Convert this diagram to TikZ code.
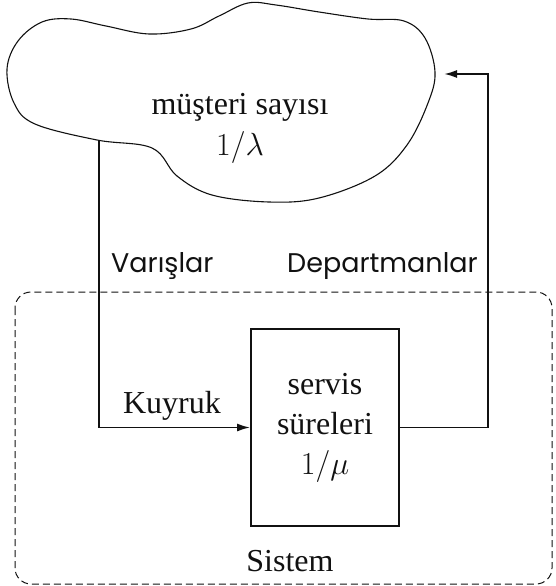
\RequirePackage{fix-cm}
\documentclass[tikz,border=0pt]{standalone}
\usepackage{fontspec}
\setmainfont{Liberation Serif}
\newfontfamily\handfont{Poppins}
\usepackage{xcolor}
\usetikzlibrary{arrows.meta}
\definecolor{ink}{HTML}{111111}
\tikzset{
  line/.style={draw=ink, line width=1.8pt},
  flow/.style={line, -{Latex[length=13pt,width=8pt]}},
  thin/.style={draw=ink, line width=1.1pt, line join=round},
  sys/.style={draw=ink, line width=1.0pt, dash pattern=on 7pt off 4pt, rounded corners=16pt},
  lab/.style={text=ink, font=\fontsize{32}{41}\selectfont, align=center, inner sep=0pt},
  hand/.style={text=ink, font=\handfont\fontsize{27}{30}\selectfont, inner sep=0pt},
  srvbox/.style={draw=ink, line width=1.8pt, minimum width=148pt, minimum height=197pt,
    text=ink, font=\fontsize{32}{40}\selectfont, align=center, inner sep=0pt},
}
\begin{document}
\begin{tikzpicture}[x=1pt,y=-1pt]
  \useasboundingbox (0,0) rectangle (555,586);
  % population cloud
  \draw[thin] plot[smooth cycle, tension=0.6] coordinates {
    (7,69) (18,41) (42,22) (71,19) (106,26) (149,34) (191,29) (219,16)
    (248,3) (276,5) (319,12) (368,19) (404,21) (425,38) (435,72) (428,103)
    (407,145) (375,176) (319,198) (269,202) (212,195) (177,176) (152,148)
    (97,140) (35,124) (14,103)};
  \node[lab] (kaynak) at (240,128) {müşteri sayısı\\$1/\lambda$};
  \coordinate (varis) at (99,140);
  \coordinate (donus) at (444,74);
  \coordinate (ust) at (488,74);
  % system
  \draw[sys] (15,292) rectangle (552,584);
  \node[srvbox] (servis) at (325,427.5) {servis\\süreleri\\$1/\mu$};
  \node[lab, anchor=base] (kuyruk) at (172,413) {Kuyruk};
  \node[lab, anchor=base] (sistem) at (290,571) {Sistem};
  \node[hand, anchor=base west] (varislar) at (111,272) {Varışlar};
  \node[hand, anchor=base west] (departman) at (287,272) {Departmanlar};
  % connectors
  \draw[flow] (varis) |- (servis.west);
  \draw[flow] (servis.east) -| (ust) -- (donus);
\end{tikzpicture}
\end{document}
